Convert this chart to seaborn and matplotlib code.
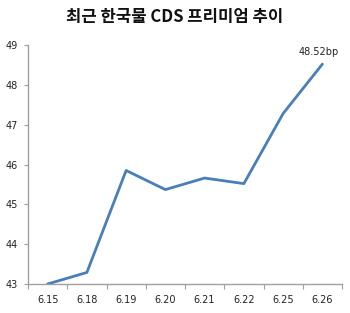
import matplotlib
matplotlib.use("Agg")
import matplotlib.pyplot as plt
import seaborn as sns
import pandas as pd
from matplotlib.ticker import FixedLocator

dates = ["6.15", "6.18", "6.19", "6.20", "6.21", "6.22", "6.25", "6.26"]
cds = [43.0, 43.29, 45.85, 45.37, 45.66, 45.52, 47.28, 48.52]
title = "최근 한국물 CDS 프리미엄 추이"
last_label = "48.52bp"

sns.set_theme(style="white")
plt.rcParams['font.family'] = ['DejaVu Sans']

df = pd.DataFrame({"date": dates, "cds": cds})

fig = plt.figure(figsize=(3.5, 3.13), dpi=100)
ax = fig.add_axes([28/350, 1-284/313, (342-28)/350, (284-45)/313])
sns.lineplot(data=df, x="date", y="cds", ax=ax, color="#4a7ebb", linewidth=2.0)

ax.set_xlim(-0.5, len(dates) - 0.5)
ax.set_ylim(43, 49)
ax.set_yticks(range(43, 50))
ax.set_xlabel("")
ax.set_ylabel("")

ax.xaxis.set_minor_locator(FixedLocator([i - 0.5 for i in range(len(dates) + 1)]))
ax.tick_params(axis="x", which="major", length=0, labelsize=7, pad=8, colors="#222222")
ax.tick_params(axis="x", which="minor", length=3.5, width=0.8, color="#a0a0a0", direction="out", bottom=True)
ax.tick_params(axis="y", which="major", length=3, width=0.8, color="#a0a0a0", direction="out", left=True,
               labelsize=7, pad=4, labelcolor="#222222")

for s in ["top", "right"]:
    ax.spines[s].set_visible(False)
for s in ["left", "bottom"]:
    ax.spines[s].set_color("#a0a0a0")
    ax.spines[s].set_linewidth(1.0)

ax.annotate(last_label, xy=(len(dates) - 1, cds[-1]), xytext=(-3, 9), textcoords="offset points",
            ha="center", va="center", fontsize=7, color="#222222", annotation_clip=False)

fig.text(0.5, 1 - 17/313, title, ha="center", va="center", fontsize=12, fontweight="bold",
         family=["Noto Sans CJK KR", "DejaVu Sans"], color="#111111")

fig.savefig("out.png", dpi=100)
